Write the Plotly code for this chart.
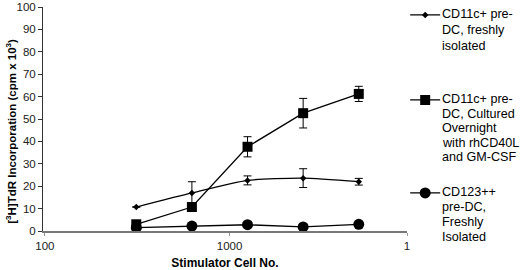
import plotly.graph_objects as go

# ---- data ----
cell_no = [3200, 1600, 800, 400, 200]
fresh_cd11c = [10.7, 17.0, 22.6, 23.6, 22.0]
fresh_cd11c_err = [0, 5.0, 2.0, 4.2, 1.5]
cultured_cd11c = [3.0, 10.7, 37.6, 52.6, 61.2]
cultured_cd11c_err = [0, 0, 4.5, 6.6, 3.4]
cd123 = [1.5, 2.2, 2.8, 1.8, 3.0]

series_labels = [
    ["CD11c+ pre-", "DC, freshly", "isolated"],
    ["CD11c+ pre-", "DC, Cultured", "Overnight", "with rhCD40L", "and GM-CSF"],
    ["CD123++", "pre-DC,", "Freshly", "Isolated"],
]

x_tickvals = [10000, 1000, 109.6]
x_ticktext = ["100", "1000", "1"]
y_ticks = list(range(0, 101, 10))

FONT = "Arial, Liberation Sans, sans-serif"

# plot-area geometry (pixels) for placing the legend blocks
PL, PR, PT, PB = 43, 407, 7, 231
def px_x(x): return (x - PL) / (PR - PL)
def px_y(y): return (PB - y) / (PB - PT)

fig = go.Figure()
fig.add_trace(go.Scatter(
    x=cell_no, y=fresh_cd11c, name=" ", mode="lines+markers",
    line=dict(color="black", width=1.3, shape="spline", smoothing=0.6),
    marker=dict(symbol="diamond", size=5, color="black"),
    error_y=dict(type="data", array=fresh_cd11c_err, color="black", thickness=1, width=4),
    legend="legend"))
fig.add_trace(go.Scatter(
    x=cell_no, y=cultured_cd11c, name=" ", mode="lines+markers",
    line=dict(color="black", width=1.3),
    marker=dict(symbol="square", size=10, color="black"),
    error_y=dict(type="data", array=cultured_cd11c_err, color="black", thickness=1, width=4),
    legend="legend2"))
fig.add_trace(go.Scatter(
    x=cell_no, y=cd123, name=" ", mode="lines+markers",
    line=dict(color="black", width=1.3),
    marker=dict(symbol="circle", size=11, color="black"),
    legend="legend3"))

# first-line centre and line spacing of each legend block (pixels)
block_top = [14, 99, 192]
line_gap = [16.2, 14.5, 15.0]

def leg(ycenter):
    return dict(x=0.995, xanchor="left", y=px_y(ycenter - 14), yanchor="top",
                valign="top", font=dict(family=FONT, size=13, color="black"),
                bgcolor="rgba(0,0,0,0)", borderwidth=0, tracegroupgap=0,
                itemwidth=30)

fig.update_layout(
    width=520, height=270,
    margin=dict(l=PL, r=520 - PR, t=PT, b=270 - PB, autoexpand=False),
    paper_bgcolor="white", plot_bgcolor="white",
    showlegend=True,
    legend=leg(block_top[0]), legend2=leg(block_top[1]), legend3=leg(block_top[2]),
    font=dict(family=FONT, size=12, color="#222"),
)
for lines, top, gap in zip(series_labels, block_top, line_gap):
    for i, t in enumerate(lines):
        fig.add_annotation(text=t, xref="paper", yref="paper",
                           x=px_x(440), y=px_y(top + i * gap),
                           xanchor="left", yanchor="middle", showarrow=False,
                           font=dict(family=FONT, size=12.6, color="black"))

fig.update_xaxes(
    type="log", range=[4.01, 2.04], tickvals=x_tickvals, ticktext=x_ticktext,
    showgrid=False, zeroline=False, showline=True, linecolor="#777", linewidth=1.5,
    ticks="outside", ticklen=3, tickcolor="#999",
    tickfont=dict(family=FONT, size=11.5, color="#222"),
    title=dict(text="<b>Stimulator Cell No.</b>", font=dict(family=FONT, size=12, color="black"),
               standoff=10),
)
fig.update_yaxes(
    range=[0, 100], tickvals=y_ticks, showgrid=False, zeroline=False,
    showline=True, linecolor="#333", linewidth=1, ticks="outside", ticklen=4,
    tickcolor="#333", tickfont=dict(family=FONT, size=11.5, color="#222"),
)
fig.add_annotation(
    text="<b>[<sup>3</sup>H]TdR Incorporation (cpm x 10<sup>3</sup>)</b>",
    xref="paper", yref="paper", x=-43 / 364 + 0.005, y=px_y(131),
    xanchor="left", yanchor="middle", textangle=-90, showarrow=False,
    font=dict(family=FONT, size=11.5, color="black"))

fig.write_html("out.html", config={"displayModeBar": False},
               post_script="document.body.style.margin='0';document.body.style.padding='0';")
